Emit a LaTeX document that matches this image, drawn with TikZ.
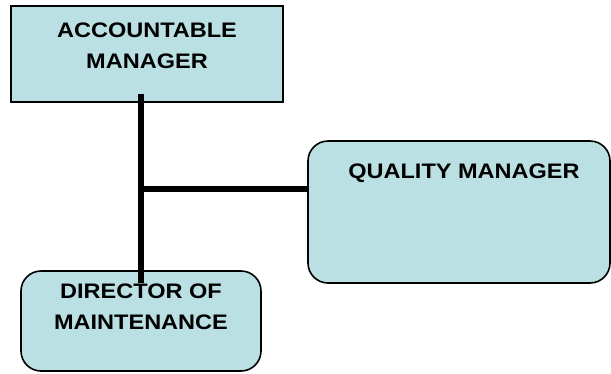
\documentclass[tikz,border=0pt]{standalone}
\usepackage{fontspec}
\setmainfont[FakeStretch=1.12]{Liberation Sans}
\usepackage{tikz}
\usetikzlibrary{positioning}

\definecolor{boxfill}{RGB}{187,224,227}

\begin{document}
\begin{tikzpicture}[x=1pt,y=-1pt,
  box/.style={draw=black,line width=1.6pt,fill=boxfill,inner sep=0pt},
  title/.style={font=\fontsize{21}{30.7}\selectfont\bfseries,align=center,inner sep=0pt,anchor=north},
  link/.style={line width=5.5pt}]
  \useasboundingbox (0,0) rectangle (611,373);
  \node[box,minimum width=272pt,minimum height=96pt] (acc) at (147,54) {};
  \node[box,rounded corners=20pt,minimum width=302pt,minimum height=142pt] (qm) at (459,212) {};
  \node[box,rounded corners=20pt,minimum width=240pt,minimum height=100pt] (dom) at (141,321) {};
  \coordinate (top) at (141,94);
  \coordinate (bot) at (141,283);
  \coordinate (tee) at (141,189);
  \draw[link] (top) -- (bot);
  \draw[link] (tee) -- (qm.west |- tee);
  \node[title] (acctext) at (147,22.7) {ACCOUNTABLE\\MANAGER};
  \node[title] (qmtext) at (464,164) {QUALITY MANAGER};
  \node[title] (domtext) at (141,284) {DIRECTOR OF\\MAINTENANCE};
\end{tikzpicture}
\end{document}
